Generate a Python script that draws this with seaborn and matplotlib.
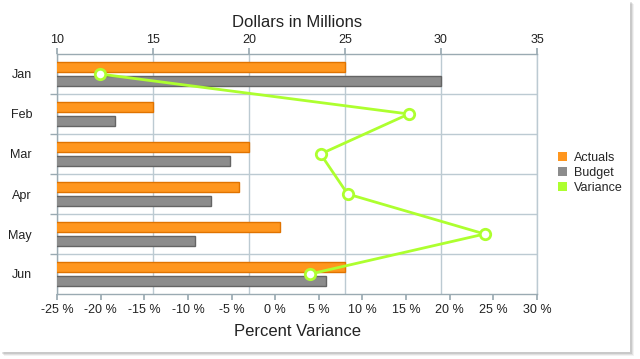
import numpy as np
import pandas as pd
import matplotlib
matplotlib.use("Agg")
import matplotlib.pyplot as plt
import seaborn as sns
from matplotlib.patches import Rectangle, Patch

months = ["Jan", "Feb", "Mar", "Apr", "May", "Jun"]
actuals = [25.0, 15.0, 20.0, 19.5, 21.6, 25.0]
budget = [30.0, 13.0, 19.0, 18.0, 17.2, 24.0]
variance = [-20.1, 15.3, 5.2, 8.3, 24.0, 4.0]
top_ticks = [10, 15, 20, 25, 30, 35]
bottom_ticks = [-25, -20, -15, -10, -5, 0, 5, 10, 15, 20, 25, 30]

sns.set_theme(style="white")
plt.rcParams["font.family"] = ["Liberation Sans", "DejaVu Sans"]

ORANGE = "#FF961E"
ORANGE_E = "#E07300"
GRAY = "#8C8C8C"
GRAY_E = "#646464"
GREEN = "#ADFF2F"
GRID = "#BCCAD2"
SPINE = "#9AAAB2"
TXT = "#222222"

fig = plt.figure(figsize=(6.4, 3.59), dpi=100)
fig.patch.set_facecolor("white")

# frame with soft shadow (right and bottom)
for i, a in enumerate([0.05, 0.07, 0.10]):
    off = 4 - i
    fig.patches.append(Rectangle((off / 640, (7 - off) / 359), 630 / 640, 352 / 359,
                                 transform=fig.transFigure, facecolor="#000000", alpha=a,
                                 edgecolor="none", zorder=0))
fig.patches.append(Rectangle((0, 7 / 359), 630 / 640, 352 / 359, transform=fig.transFigure,
                             facecolor="white", edgecolor="none", zorder=1))

ax = fig.add_axes([57 / 640, 1 - 294 / 359, 480 / 640, 240 / 359])
ax.set_facecolor("white")
ax.set_zorder(2)

df = pd.DataFrame({
    "Month": months * 2,
    "Value": actuals + budget,
    "Series": ["Actuals"] * 6 + ["Budget"] * 6,
})
sns.barplot(data=df, x="Value", y="Month", hue="Series", orient="h",
            palette={"Actuals": ORANGE, "Budget": GRAY}, width=0.71, gap=0.3,
            ax=ax, legend=False, saturation=1, zorder=3)
for bar, s in zip(ax.patches, ["Actuals"] * 6 + ["Budget"] * 6):
    bar.set_edgecolor(ORANGE_E if s == "Actuals" else GRAY_E)
    bar.set_linewidth(1.0)

ax2 = ax.twiny()
ax2.set_zorder(3)
positions = np.arange(len(months))
sns.lineplot(x=variance, y=positions, sort=False, orient="y", ax=ax2, color=GREEN,
             linewidth=2, marker="o", markersize=7.5, markerfacecolor="white",
             markeredgecolor=GREEN, markeredgewidth=2, zorder=5)
ax2.set_xlim(-25, 30)
ax2.set_ylim(5.5, -0.5)
ax2.xaxis.tick_bottom()
ax2.xaxis.set_label_position("bottom")
ax2.set_xticks(bottom_ticks)
ax2.set_xticklabels([f"{t} %" for t in bottom_ticks], fontsize=9, color=TXT)
ax2.set_xlabel("Percent Variance", fontsize=12, color=TXT, labelpad=6)
ax2.tick_params(axis="x", length=4, color=SPINE, pad=3, bottom=True, top=False,
                labelbottom=True, labeltop=False)
ax2.set_ylabel("")
for side in ["left", "top", "bottom", "right"]:
    ax2.spines[side].set_visible(False)

ax.set_xlim(10, 35)
ax.set_ylim(5.5, -0.5)
ax.xaxis.tick_top()
ax.xaxis.set_label_position("top")
ax.set_xticks(top_ticks)
ax.set_xticklabels([str(t) for t in top_ticks], fontsize=9, color=TXT)
ax.tick_params(axis="x", length=4, color=SPINE, pad=2, top=True, bottom=False,
               labeltop=True, labelbottom=False)
ax.set_xlabel("Dollars in Millions", fontsize=12, color=TXT, labelpad=5)
ax.set_ylabel("")
ax.set_yticks(range(len(months)))
ax.set_yticklabels(months, fontsize=9, color=TXT)
ax.tick_params(axis="y", which="major", length=0, pad=18)
ax.set_yticks(np.arange(0.5, len(months) - 0.5, 1), minor=True)
ax.tick_params(axis="y", which="minor", length=5, color=SPINE, left=True)
ax.grid(True, axis="x", which="major", color=GRID, linewidth=1, zorder=0)
ax.grid(True, axis="y", which="minor", color=GRID, linewidth=1, zorder=0)
ax.set_axisbelow(True)
for side in ["left", "top", "bottom", "right"]:
    ax.spines[side].set_color(SPINE)
    ax.spines[side].set_linewidth(1)
ax.spines["right"].set_color(GRID)

handles = [Patch(facecolor=ORANGE, edgecolor="none", label="Actuals"),
           Patch(facecolor=GRAY, edgecolor="none", label="Budget"),
           Patch(facecolor=GREEN, edgecolor="none", label="Variance")]
fig.legend(handles=handles, loc="center left", bbox_to_anchor=(558 / 640, 1 - 173 / 359),
           frameon=False, fontsize=9, handlelength=0.7, handleheight=0.7,
           handletextpad=0.6, labelspacing=0.25, borderaxespad=0, borderpad=0)

fig.savefig("out.png", dpi=100, facecolor="white")
